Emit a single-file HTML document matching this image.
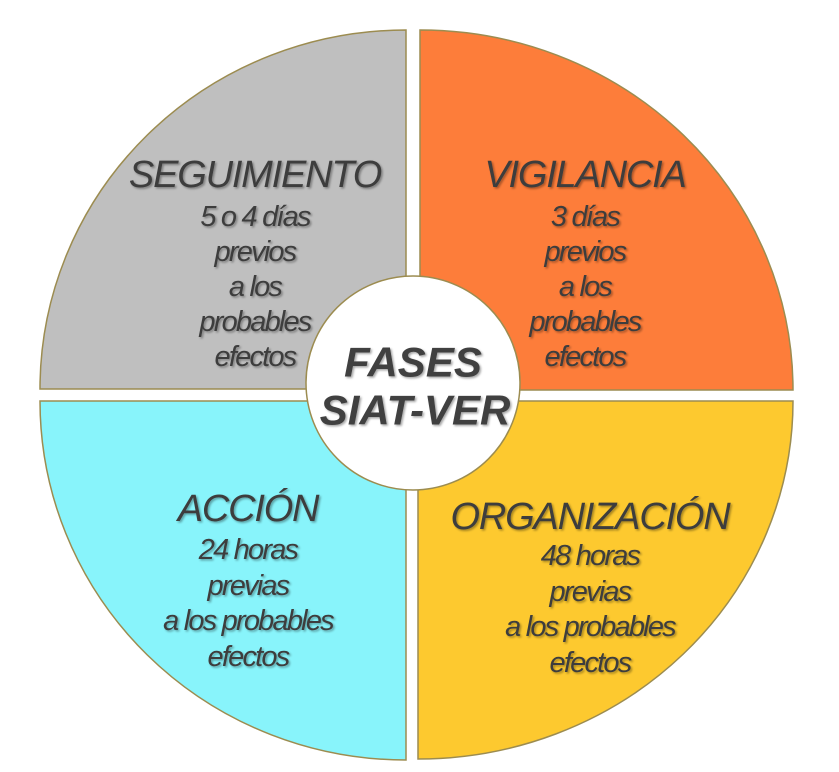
<!DOCTYPE html>
<html><head><meta charset="utf-8"><style>
html,body{margin:0;padding:0;background:#fff;}
svg{display:block;}
text{font-family:"Liberation Sans",sans-serif;font-style:italic;fill:#3e3e3e;text-anchor:middle;dominant-baseline:central;}
.t{font-size:38px;letter-spacing:-1.2px;}
.b{font-size:29px;letter-spacing:-1.8px;}
.c{font-size:42px;font-weight:bold;letter-spacing:0px;fill:#404040;}
</style></head><body>
<svg width="839" height="772" viewBox="0 0 839 772" xmlns="http://www.w3.org/2000/svg">
<defs><filter id="s" x="-10%" y="-10%" width="120%" height="130%"><feDropShadow dx="1.5" dy="1.5" stdDeviation="1" flood-color="#000" flood-opacity="0.35"/></filter></defs>
<g stroke="#9c8c50" stroke-width="1.5">
<path d="M406,389 L40,389 A366,359 0 0 1 406,30 Z" fill="#bfbfbf"/>
<path d="M420,390 L420,30 A373,360 0 0 1 793,390 Z" fill="#fd7d3a"/>
<path d="M406,401 L406,760 A366,359 0 0 1 40,401 Z" fill="#88f4fb"/>
<path d="M418,401 L793,401 A375,358 0 0 1 418,759 Z" fill="#fdc92f"/>
<circle cx="413" cy="383" r="107" fill="#fff"/>
</g>
<g filter="url(#s)">
<text class="t" x="255" y="175">SEGUIMIENTO</text>
<text class="b" x="255" y="217">5 o 4 días</text>
<text class="b" x="255" y="252">previos</text>
<text class="b" x="255" y="287">a los</text>
<text class="b" x="255" y="322">probables</text>
<text class="b" x="255" y="357">efectos</text>

<text class="t" x="585" y="175">VIGILANCIA</text>
<text class="b" x="585" y="217">3 días</text>
<text class="b" x="585" y="252">previos</text>
<text class="b" x="585" y="287">a los</text>
<text class="b" x="585" y="322">probables</text>
<text class="b" x="585" y="357">efectos</text>

<text class="t" x="248" y="509">ACCIÓN</text>
<text class="b" x="248" y="550">24 horas</text>
<text class="b" x="248" y="586">previas</text>
<text class="b" x="248" y="621">a los probables</text>
<text class="b" x="248" y="657">efectos</text>

<text class="t" x="590" y="517">ORGANIZACIÓN</text>
<text class="b" x="590" y="556">48 horas</text>
<text class="b" x="590" y="592">previas</text>
<text class="b" x="590" y="627">a los probables</text>
<text class="b" x="590" y="663">efectos</text>

<text class="c" x="413" y="362">FASES</text>
<text class="c" x="415" y="410">SIAT-VER</text>
</g>
</svg>
</body></html>
